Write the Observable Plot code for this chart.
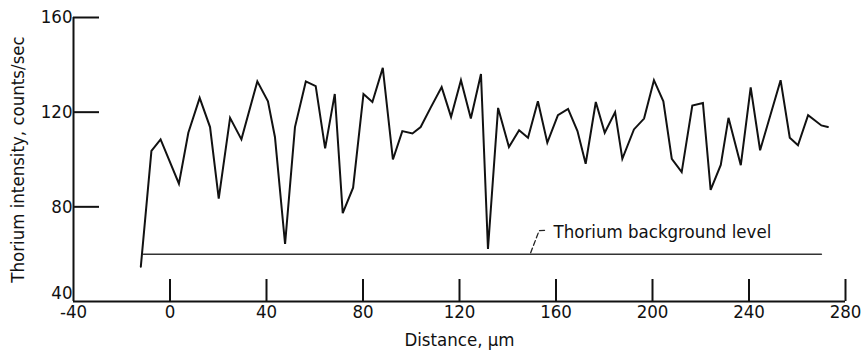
<!DOCTYPE html>
<html>
<head>
<meta charset="utf-8">
<script src="https://cdn.jsdelivr.net/npm/d3@7"></script>
<script src="https://cdn.jsdelivr.net/npm/@observablehq/plot@0.6"></script>
<style>
  html, body { margin: 0; padding: 0; background: #fff; }
</style>
</head>
<body>
<div id="chart"></div>
<script>
// Distance (µm) and thorium intensity (counts/sec)
const distance = [-12.1, -7.7, -3.9, 3.7, 7.6, 12.3, 16.6, 20.2, 24.9, 29.6, 36.2, 40.6, 43.5, 47.7, 51.8, 56.3, 60.4, 64.3, 68.3, 71.6, 75.9, 80.2, 83.9, 88.2, 92.4, 96.3, 100.5, 103.9, 108, 112.6, 116.5, 120.6, 124.7, 128.9, 131.8, 136, 140.5, 144.7, 148.4, 152.5, 156.4, 160.8, 165, 168.9, 172.3, 176.5, 180.2, 184.5, 187.5, 192.3, 196.5, 200.6, 204.5, 208, 212.1, 216.5, 220.9, 224.1, 228.3, 231.5, 236.6, 240.7, 244.6, 253.1, 256.9, 260.3, 264.5, 270, 272.7];
const intensity = [54.7, 103.6, 108.5, 89.8, 111.3, 126, 113.7, 83.5, 117.6, 108.5, 133, 124.6, 109.5, 64.3, 113.7, 133, 131, 104.7, 127.7, 77.3, 88.1, 127.7, 124.3, 138.7, 100, 112, 111, 113.7, 121.8, 130.6, 118, 133.5, 117.3, 136.1, 62.2, 121.8, 105.3, 112.4, 109.2, 124.6, 107.1, 118.7, 121.4, 112, 98.2, 124.3, 111.3, 120, 100.3, 112.7, 117.3, 133.5, 124.6, 100.3, 94.7, 122.8, 123.9, 87.2, 97.7, 117.6, 97.6, 130.5, 103.9, 133.5, 109.2, 106, 118.7, 114.4, 113.7];

// Thorium background level
const backgroundLevel = 60;
const backgroundRange = [-11, 270];

// Tick labels
const xTicks = [-40, 0, 40, 80, 120, 160, 200, 240, 280];
const yTicks = [40, 80, 120, 160];
const xDomain = [-40, 280];
const yDomain = [40, 160];

// Annotation
const labelText = "Thorium background level";
const labelAnchor = {x: 159, y: 69.5};
const leaderX = [149.5, 153, 155.5];
const leaderY = [60.6, 69.9, 70.1];

const trace = distance.map((d, i) => ({x: d, y: intensity[i]}));
const background = backgroundRange.map(x => ({x, y: backgroundLevel}));
const leader = leaderX.map((x, i) => ({x, y: leaderY[i]}));

const W = 862, H = 355;
const mL = 73, mR = 17, mT = 17, mB = 54;
const plotW = W - mL - mR, plotH = H - mT - mB;

const font = "'DejaVu Sans Condensed', 'Liberation Sans Narrow', sans-serif";
const fs = 18.5;

const chart = Plot.plot({
  width: W,
  height: H,
  marginLeft: mL,
  marginRight: mR,
  marginTop: mT,
  marginBottom: mB,
  style: {fontFamily: font, fontSize: fs + "px", color: "#111", background: "#fff"},
  x: {domain: xDomain, axis: null},
  y: {domain: yDomain, axis: null},
  marks: [
    // axis lines
    Plot.ruleY([yDomain[0]], {x1: xDomain[0], x2: xDomain[1], stroke: "#111", strokeWidth: 2}),
    Plot.ruleX([xDomain[0]], {y1: yDomain[0], y2: yDomain[1], stroke: "#111", strokeWidth: 2}),
    // inward ticks
    Plot.tickX(xTicks.filter(t => t !== xDomain[0]), {x: d => d, insetTop: plotH - 22, stroke: "#111", strokeWidth: 2}),
    Plot.tickY(yTicks.filter(t => t !== yDomain[0]), {y: d => d, insetRight: plotW - 26, stroke: "#111", strokeWidth: 2}),
    // tick labels
    Plot.axisX(xTicks, {tickSize: 0, tickPadding: 3, fontSize: fs, label: null, tickFormat: d => String(d)}),
    Plot.axisY(yTicks.filter(t => t !== yDomain[0]), {tickSize: 0, tickPadding: 1, fontSize: fs, label: null, tickFormat: d => String(d)}),
    Plot.text([yTicks[0]], {x: xDomain[0], y: d => d, text: d => String(d), dx: -1, dy: -8, textAnchor: "end", lineAnchor: "middle", fontSize: fs}),
    // axis titles
    Plot.text(["Distance, μm"], {frameAnchor: "bottom", dy: 39, fontSize: fs, textAnchor: "middle", lineAnchor: "middle"}),
    Plot.text(["Thorium intensity, counts/sec"], {frameAnchor: "left", dx: -55, rotate: -90, fontSize: fs, textAnchor: "middle", lineAnchor: "middle"}),
    // background level
    Plot.line(background, {x: "x", y: "y", stroke: "#333", strokeWidth: 1.5}),
    // leader and label
    Plot.line(leader, {x: "x", y: "y", stroke: "#222", strokeWidth: 1.3, strokeDasharray: "5,3"}),
    Plot.text([labelText], {x: labelAnchor.x, y: labelAnchor.y, textAnchor: "start", fontSize: fs, lineAnchor: "middle"}),
    // trace
    Plot.line(trace, {x: "x", y: "y", stroke: "#111", strokeWidth: 2, strokeLinejoin: "miter", strokeMiterlimit: 4})
  ]
});
document.getElementById("chart").appendChild(chart);
</script>
</body>
</html>
